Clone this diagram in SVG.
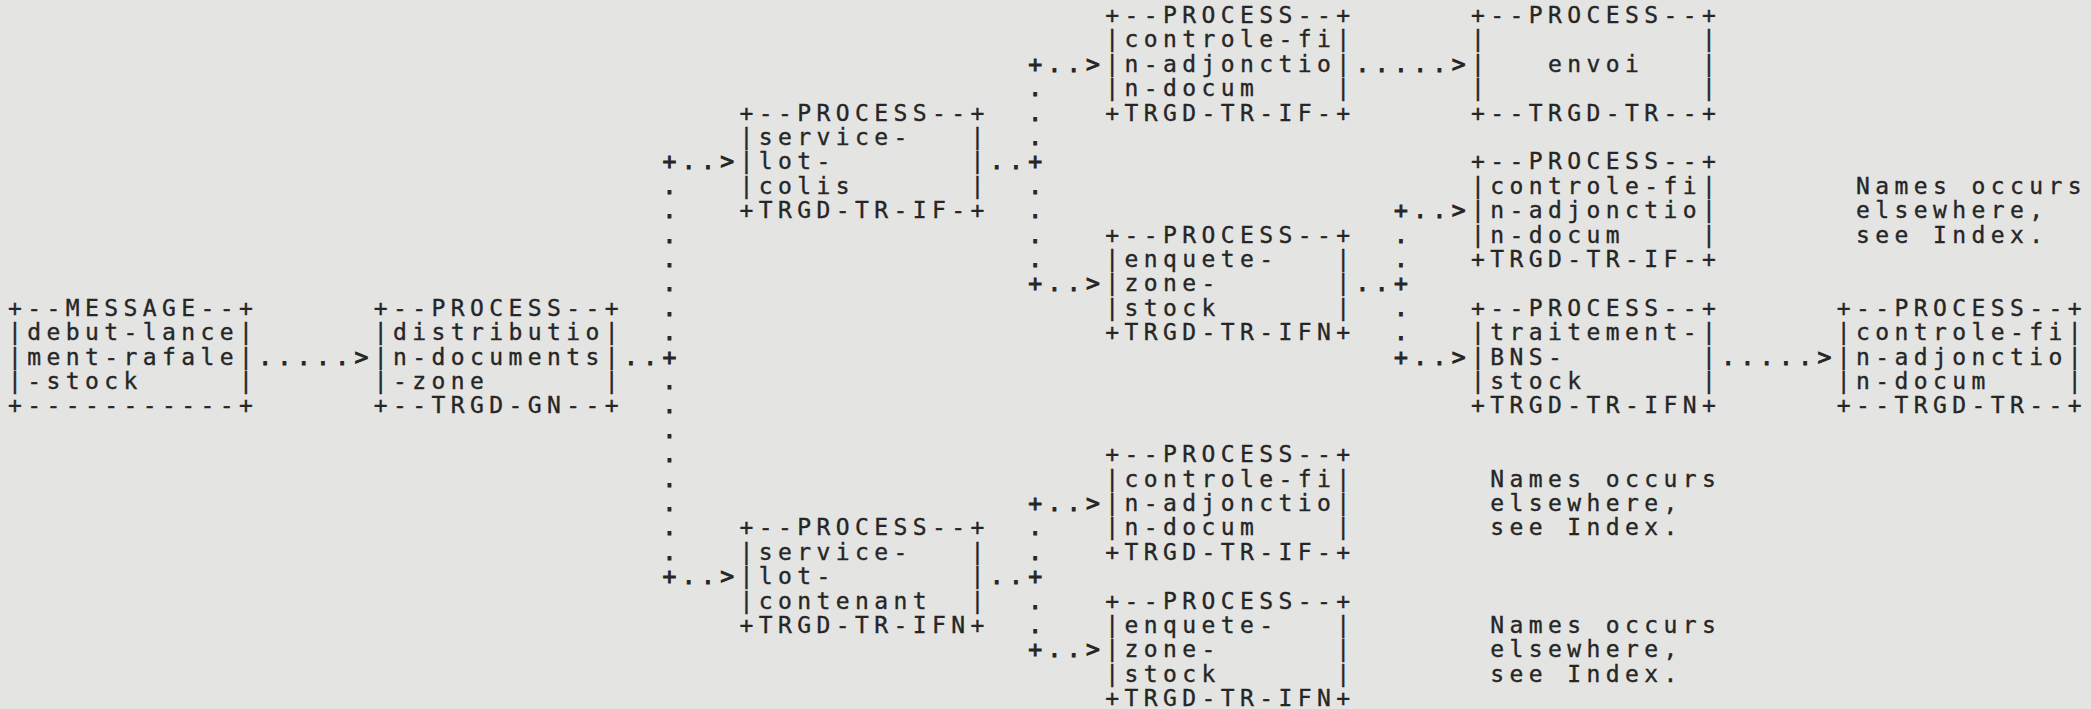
<svg xmlns="http://www.w3.org/2000/svg" width="2091" height="709" viewBox="0 0 2091 709" xml:space="preserve">
<style>
text{font-family:"DejaVu Sans Mono","Liberation Mono",monospace;font-size:23px;letter-spacing:5.4px;fill:#262626;stroke:#262626;stroke-width:0.35px;white-space:pre}
#connectors text{stroke-width:0.9px}
</style>
<rect width="2091" height="709" fill="#e4e4e2"/>
<g id="connectors">
<text><tspan x="258.25" y="364.6">.....&gt;</tspan><tspan x="624" y="364.6">..+</tspan></text>
<text><tspan x="662.5" y="169.4">+..&gt;</tspan><tspan x="662.5" y="193.8">.</tspan><tspan x="662.5" y="218.2">.</tspan><tspan x="662.5" y="242.6">.</tspan><tspan x="662.5" y="267">.</tspan><tspan x="662.5" y="291.4">.</tspan><tspan x="662.5" y="315.8">.</tspan><tspan x="662.5" y="340.2">.</tspan><tspan x="662.5" y="389">.</tspan><tspan x="662.5" y="413.4">.</tspan><tspan x="662.5" y="437.8">.</tspan><tspan x="662.5" y="462.2">.</tspan><tspan x="662.5" y="486.6">.</tspan><tspan x="662.5" y="511">.</tspan><tspan x="662.5" y="535.4">.</tspan><tspan x="662.5" y="559.8">.</tspan><tspan x="662.5" y="584.2">+..&gt;</tspan></text>
<text><tspan x="989.75" y="169.4">..+</tspan><tspan x="1028.25" y="71.8">+..&gt;</tspan><tspan x="1028.25" y="96.2">.</tspan><tspan x="1028.25" y="120.6">.</tspan><tspan x="1028.25" y="145">.</tspan><tspan x="1028.25" y="193.8">.</tspan><tspan x="1028.25" y="218.2">.</tspan><tspan x="1028.25" y="242.6">.</tspan><tspan x="1028.25" y="267">.</tspan><tspan x="1028.25" y="291.4">+..&gt;</tspan></text>
<text><tspan x="989.75" y="584.2">..+</tspan><tspan x="1028.25" y="511">+..&gt;</tspan><tspan x="1028.25" y="535.4">.</tspan><tspan x="1028.25" y="559.8">.</tspan><tspan x="1028.25" y="608.6">.</tspan><tspan x="1028.25" y="633">.</tspan><tspan x="1028.25" y="657.4">+..&gt;</tspan></text>
<text><tspan x="1355.5" y="71.8">.....&gt;</tspan></text>
<text><tspan x="1355.5" y="291.4">..+</tspan><tspan x="1394" y="218.2">+..&gt;</tspan><tspan x="1394" y="242.6">.</tspan><tspan x="1394" y="267">.</tspan><tspan x="1394" y="315.8">.</tspan><tspan x="1394" y="340.2">.</tspan><tspan x="1394" y="364.6">+..&gt;</tspan></text>
<text><tspan x="1721.25" y="364.6">.....&gt;</tspan></text>
</g>
<g id="message-debut-lancement-rafale-stock">
<text><tspan x="8" y="315.8">+--MESSAGE--+</tspan><tspan x="8" y="340.2">|debut-lance|</tspan><tspan x="8" y="364.6">|ment-rafale|</tspan><tspan x="8" y="389">|-stock     |</tspan><tspan x="8" y="413.4">+-----------+</tspan></text>
</g>
<g id="process-distribution-documents-zone">
<text><tspan x="373.75" y="315.8">+--PROCESS--+</tspan><tspan x="373.75" y="340.2">|distributio|</tspan><tspan x="373.75" y="364.6">|n-documents|</tspan><tspan x="373.75" y="389">|-zone      |</tspan><tspan x="373.75" y="413.4">+--TRGD-GN--+</tspan></text>
</g>
<g id="process-service-lot-colis">
<text><tspan x="739.5" y="120.6">+--PROCESS--+</tspan><tspan x="739.5" y="145">|service-   |</tspan><tspan x="739.5" y="169.4">|lot-       |</tspan><tspan x="739.5" y="193.8">|colis      |</tspan><tspan x="739.5" y="218.2">+TRGD-TR-IF-+</tspan></text>
</g>
<g id="process-service-lot-contenant">
<text><tspan x="739.5" y="535.4">+--PROCESS--+</tspan><tspan x="739.5" y="559.8">|service-   |</tspan><tspan x="739.5" y="584.2">|lot-       |</tspan><tspan x="739.5" y="608.6">|contenant  |</tspan><tspan x="739.5" y="633">+TRGD-TR-IFN+</tspan></text>
</g>
<g id="process-controle-1">
<text><tspan x="1105.25" y="23">+--PROCESS--+</tspan><tspan x="1105.25" y="47.4">|controle-fi|</tspan><tspan x="1105.25" y="71.8">|n-adjonctio|</tspan><tspan x="1105.25" y="96.2">|n-docum    |</tspan><tspan x="1105.25" y="120.6">+TRGD-TR-IF-+</tspan></text>
</g>
<g id="process-envoi">
<text><tspan x="1471" y="23">+--PROCESS--+</tspan><tspan x="1471" y="47.4">|           |</tspan><tspan x="1471" y="71.8">|   envoi   |</tspan><tspan x="1471" y="96.2">|           |</tspan><tspan x="1471" y="120.6">+--TRGD-TR--+</tspan></text>
</g>
<g id="process-enquete-zone-stock-1">
<text><tspan x="1105.25" y="242.6">+--PROCESS--+</tspan><tspan x="1105.25" y="267">|enquete-   |</tspan><tspan x="1105.25" y="291.4">|zone-      |</tspan><tspan x="1105.25" y="315.8">|stock      |</tspan><tspan x="1105.25" y="340.2">+TRGD-TR-IFN+</tspan></text>
</g>
<g id="process-controle-2">
<text><tspan x="1471" y="169.4">+--PROCESS--+</tspan><tspan x="1471" y="193.8">|controle-fi|</tspan><tspan x="1471" y="218.2">|n-adjonctio|</tspan><tspan x="1471" y="242.6">|n-docum    |</tspan><tspan x="1471" y="267">+TRGD-TR-IF-+</tspan></text>
<text><tspan x="1856" y="193.8">Names occurs</tspan><tspan x="1856" y="218.2">elsewhere,</tspan><tspan x="1856" y="242.6">see Index.</tspan></text>
</g>
<g id="process-traitement-bns-stock">
<text><tspan x="1471" y="315.8">+--PROCESS--+</tspan><tspan x="1471" y="340.2">|traitement-|</tspan><tspan x="1471" y="364.6">|BNS-       |</tspan><tspan x="1471" y="389">|stock      |</tspan><tspan x="1471" y="413.4">+TRGD-TR-IFN+</tspan></text>
</g>
<g id="process-controle-3">
<text><tspan x="1836.75" y="315.8">+--PROCESS--+</tspan><tspan x="1836.75" y="340.2">|controle-fi|</tspan><tspan x="1836.75" y="364.6">|n-adjonctio|</tspan><tspan x="1836.75" y="389">|n-docum    |</tspan><tspan x="1836.75" y="413.4">+--TRGD-TR--+</tspan></text>
</g>
<g id="process-controle-4">
<text><tspan x="1105.25" y="462.2">+--PROCESS--+</tspan><tspan x="1105.25" y="486.6">|controle-fi|</tspan><tspan x="1105.25" y="511">|n-adjonctio|</tspan><tspan x="1105.25" y="535.4">|n-docum    |</tspan><tspan x="1105.25" y="559.8">+TRGD-TR-IF-+</tspan></text>
<text><tspan x="1490.25" y="486.6">Names occurs</tspan><tspan x="1490.25" y="511">elsewhere,</tspan><tspan x="1490.25" y="535.4">see Index.</tspan></text>
</g>
<g id="process-enquete-zone-stock-2">
<text><tspan x="1105.25" y="608.6">+--PROCESS--+</tspan><tspan x="1105.25" y="633">|enquete-   |</tspan><tspan x="1105.25" y="657.4">|zone-      |</tspan><tspan x="1105.25" y="681.8">|stock      |</tspan><tspan x="1105.25" y="706.2">+TRGD-TR-IFN+</tspan></text>
<text><tspan x="1490.25" y="633">Names occurs</tspan><tspan x="1490.25" y="657.4">elsewhere,</tspan><tspan x="1490.25" y="681.8">see Index.</tspan></text>
</g>
</svg>
